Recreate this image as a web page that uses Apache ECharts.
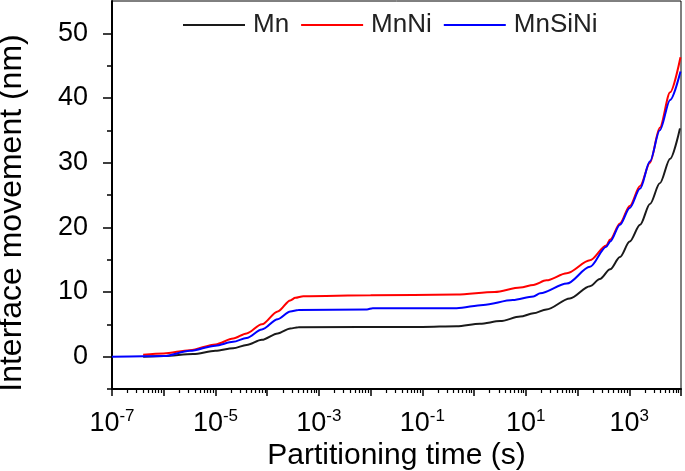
<!DOCTYPE html>
<html><head><meta charset="utf-8">
<script src="https://cdn.jsdelivr.net/npm/echarts@6/dist/echarts.min.js"></script>
<style>html,body{margin:0;padding:0;background:#fff}#c{width:685px;height:471px}</style>
</head><body><div id="c"></div>
<script>
// ---- data (time in seconds, interface movement in nm) ----
const seriesNames = ['Mn', 'MnNi', 'MnSiNi'];

const timeMn = [4e-7, 1e-6, 3.7e-6, 1e-5, 2.2e-5, 4.0e-5, 7.9e-5, 1.6e-4, 2.8e-4, 4.0e-4, 0.1, 0.46, 1.3, 3.2, 7.8, 14, 25, 71, 174, 270, 427, 660, 1020, 1620, 2510, 3890, 6170, 9550];
const valMn  = [0, 0.1, 0.4, 0.9, 1.3, 1.8, 2.6, 3.6, 4.35, 4.55, 4.6, 4.7, 5.1, 5.5, 6.2, 6.7, 7.3, 9.0, 10.9, 12.0, 13.5, 15.4, 17.8, 20.4, 23.6, 26.8, 30.6, 35.3];

const timeMnNi = [4e-7, 1e-6, 3.2e-6, 1e-5, 2.2e-5, 4.0e-5, 7.9e-5, 1.6e-4, 2.8e-4, 3.5e-4, 5.0e-4, 0.01, 0.46, 2.5, 7.8, 14, 25, 62, 174, 360, 427, 660, 1020, 1620, 2510, 3890, 6170, 9770];
const valMnNi  = [0.3, 0.5, 1.0, 1.9, 2.8, 3.6, 5.0, 7.0, 8.7, 9.1, 9.35, 9.5, 9.6, 10.0, 10.7, 11.1, 11.8, 12.9, 14.9, 17.2, 18.1, 20.6, 23.3, 26.4, 30.0, 35.4, 40.9, 46.3];

const timeMnSiNi = [1e-7, 4e-7, 1e-6, 3.2e-6, 1e-5, 2.2e-5, 4.0e-5, 7.9e-5, 1.6e-4, 2.8e-4, 4.0e-4, 8.5e-3, 0.011, 0.46, 1.5, 5.6, 14, 19, 62, 174, 360, 427, 660, 1020, 1620, 2510, 3890, 6170, 9770];
const valMnSiNi  = [0, 0.05, 0.1, 0.9, 1.7, 2.3, 2.9, 4.2, 5.8, 7.0, 7.2, 7.3, 7.5, 7.5, 8.0, 8.75, 9.3, 9.8, 11.3, 13.9, 17.0, 17.8, 20.4, 23.0, 26.0, 30.2, 35.0, 39.7, 44.1];

const yTickLabels = [0, 10, 20, 30, 40, 50];
const yMinorTicks = [-5, 5, 15, 25, 35, 45];
const xLabelExponents = [-7, -5, -3, -1, 1, 3];

// tick positions on the decade (exponent) axis that overlays the log x axis
const minorTickExp = [];
for (let n = -7; n < 4; n++) for (let k = 2; k <= 9; k++) minorTickExp.push(n + Math.log10(k));

const FONT = '"Liberation Sans", Arial, sans-serif';
const pairs = (t, v) => t.map((x, i) => [x, v[i]]);

const chart = echarts.init(document.getElementById('c'), null, {renderer: 'canvas'});
chart.setOption({
  animation: false,
  backgroundColor: '#fff',
  grid: {left: 112, right: 4, top: 1, bottom: 82, show: true, borderColor: '#000', borderWidth: 1,
         containLabel: false, outerBoundsMode: 'none'},
  legend: {
    top: 7, left: 178, itemWidth: 62, itemHeight: 2, itemGap: 12, icon: 'rect',
    data: seriesNames,
    textStyle: {fontFamily: FONT, fontSize: 26, color: '#222', padding: [0, 0, 0, 3]}
  },
  xAxis: [{
    // data axis (logarithmic)
    type: 'log', logBase: 10, min: 1e-7, max: 1e4,
    name: 'Partitioning time (s)', nameLocation: 'middle', nameGap: 52,
    nameTextStyle: {fontFamily: FONT, fontSize: 30, color: '#000'},
    axisLine: {onZero: false, lineStyle: {color: '#000', width: 2}},
    axisTick: {show: false}, axisLabel: {show: false},
    splitLine: {show: false}, minorTick: {show: false}
  }, {
    // decade ticks and labels (exponent of 10)
    type: 'value', min: -7, max: 4, interval: 1, gridIndex: 0, position: 'bottom',
    axisLine: {show: false, onZero: false}, splitLine: {show: false},
    axisTick: {show: true, length: 7, lineStyle: {color: '#000', width: 1.5}},
    axisLabel: {
      margin: 19, interval: 0, hideOverlap: false, color: '#000', fontFamily: FONT,
      formatter: function (e) {
        if (xLabelExponents.indexOf(e) < 0) return '';
        return '{b|10}{s|' + e + '}';
      },
      rich: {
        b: {fontFamily: FONT, fontSize: 27, color: '#000', lineHeight: 32},
        s: {fontFamily: FONT, fontSize: 17, color: '#000', verticalAlign: 'top', lineHeight: 11}
      }
    }
  }, {
    // minor ticks 2..9 within each decade
    type: 'value', min: -7, max: 4, gridIndex: 0, position: 'bottom',
    axisLine: {show: false, onZero: false}, axisLabel: {show: false}, splitLine: {show: false},
    axisTick: {show: true, length: 4, customValues: minorTickExp, lineStyle: {color: '#000', width: 1.2}}
  }],
  yAxis: [{
    type: 'value', min: -5, max: 55, interval: 5,
    name: 'Interface movement (nm)', nameLocation: 'middle', nameGap: 84, nameRotate: 90,
    nameTextStyle: {fontFamily: FONT, fontSize: 32, color: '#000', padding: [0, 36, 0, 0]},
    axisLine: {show: true, onZero: false, lineStyle: {color: '#000', width: 2}},
    axisTick: {show: true, length: 9, customValues: yTickLabels, lineStyle: {color: '#000', width: 1.5}},
    axisLabel: {margin: 24, customValues: yTickLabels, fontFamily: FONT, fontSize: 27, color: '#000'},
    splitLine: {show: false}
  }, {
    type: 'value', min: -5, max: 55, interval: 5, gridIndex: 0, position: 'left',
    axisLine: {show: false, onZero: false}, axisLabel: {show: false}, splitLine: {show: false},
    axisTick: {show: true, length: 5, customValues: yMinorTicks, lineStyle: {color: '#000', width: 1.5}}
  }],
  series: [
    {name: 'Mn', type: 'line', data: pairs(timeMn, valMn), symbol: 'none', smooth: 0.3, smoothMonotone: 'x',
     lineStyle: {color: '#1a1a1a', width: 2}, itemStyle: {color: '#1a1a1a'}},
    {name: 'MnNi', type: 'line', data: pairs(timeMnNi, valMnNi), symbol: 'none', smooth: 0.3, smoothMonotone: 'x',
     lineStyle: {color: '#ff0000', width: 2}, itemStyle: {color: '#ff0000'}},
    {name: 'MnSiNi', type: 'line', data: pairs(timeMnSiNi, valMnSiNi), symbol: 'none', smooth: 0.3, smoothMonotone: 'x',
     lineStyle: {color: '#0000ff', width: 2}, itemStyle: {color: '#0000ff'}}
  ]
});
</script></body></html>
